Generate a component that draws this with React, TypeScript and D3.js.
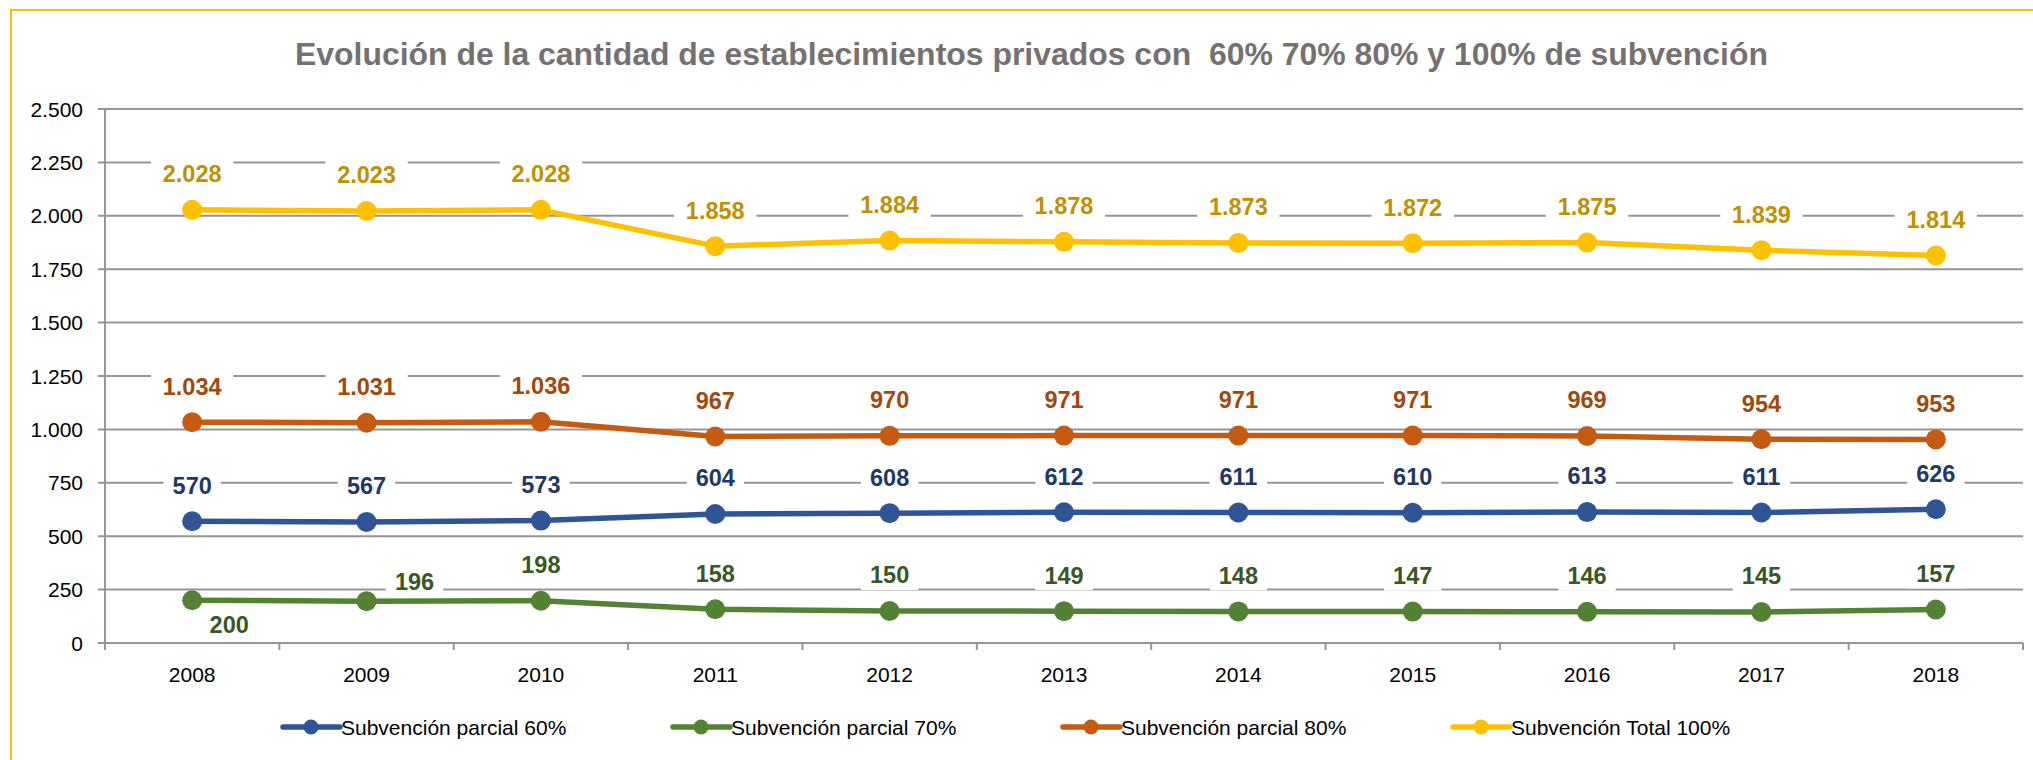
import React from "react";
import * as d3 from "d3";

const years = ["2008", "2009", "2010", "2011", "2012", "2013", "2014", "2015", "2016", "2017", "2018"];
const parcial60 = [570, 567, 573, 604, 608, 612, 611, 610, 613, 611, 626];
const parcial70 = [200, 196, 198, 158, 150, 149, 148, 147, 146, 145, 157];
const parcial80 = [1034, 1031, 1036, 967, 970, 971, 971, 971, 969, 954, 953];
const total100 = [2028, 2023, 2028, 1858, 1884, 1878, 1873, 1872, 1875, 1839, 1814];
const yTicks = [0, 250, 500, 750, 1000, 1250, 1500, 1750, 2000, 2250, 2500];

const seriesNames = [
  "Subvención parcial 60%",
  "Subvención parcial 70%",
  "Subvención parcial 80%",
  "Subvención Total 100%",
];

const W = 2033;
const H = 760;
const font = "'Liberation Sans', Arial, sans-serif";

// excel-ish palette: line colour, label colour
const series = [
  { name: seriesNames[0], values: parcial60, color: "#2F5597", label: "#1F3864" },
  { name: seriesNames[1], values: parcial70, color: "#548235", label: "#385723" },
  { name: seriesNames[2], values: parcial80, color: "#C55A11", label: "#A0480E" },
  { name: seriesNames[3], values: total100, color: "#FFC000", label: "#BF9000" },
];

// label placement that Excel moved around (series index -> point index -> [dx, dy])
const labelShift: Record<number, Record<number, [number, number]>> = {
  1: { 0: [37, 60], 1: [48, 16] },
};

const es = d3.formatLocale({ decimal: ",", thousands: ".", grouping: [3], currency: ["", ""] });
const fmt = es.format(",d");

export default function App() {
  const x = d3.scaleBand<string>().domain(years).range([105, 2023]).padding(0);
  const y = d3.scaleLinear().domain([0, 2500]).range([643, 109]);
  const cx = (yr: string) => (x(yr) as number) + x.bandwidth() / 2;

  const line = d3
    .line<number>()
    .x((_, i) => cx(years[i]))
    .y((d) => y(d));

  const gridColor = "#959595";
  const labelSize = 23.5;

  return (
    <svg
      width={W}
      height={H}
      style={{ position: "absolute", left: 0, top: 0, background: "#fff" }}
      fontFamily={font}
    >
      {/* outer frame */}
      <rect x={11} y={10} width={2100} height={900} fill="none" stroke="#FFC000" strokeWidth={2} />

      {/* title */}
      <text
        x={1031.5}
        y={65}
        textAnchor="middle"
        fontSize={31}
        fontWeight="bold"
        fill="#767171"
        textLength={1473}
        lengthAdjust="spacingAndGlyphs"
        style={{ whiteSpace: "pre" }}
      >
        {"Evolución de la cantidad de establecimientos privados con  60% 70% 80% y 100% de subvención"}
      </text>

      {/* gridlines + y axis */}
      {yTicks.map((t) => (
        <g key={t}>
          <line x1={98} x2={2023} y1={y(t)} y2={y(t)} stroke={gridColor} strokeWidth={2} />
          <text x={83} y={y(t) + 7.5} textAnchor="end" fontSize={21} fill="#000">
            {fmt(t)}
          </text>
        </g>
      ))}
      <line x1={105} x2={105} y1={y(2500)} y2={y(0)} stroke={gridColor} strokeWidth={2} />

      {/* x axis ticks */}
      {years.concat(["end"]).map((yr, i) => {
        const xx = 105 + i * x.bandwidth();
        return <line key={yr} x1={xx} x2={xx} y1={y(0)} y2={y(0) + 7} stroke={gridColor} strokeWidth={2} />;
      })}
      {years.map((yr) => (
        <text key={yr} x={cx(yr)} y={682} textAnchor="middle" fontSize={21} fill="#000">
          {yr}
        </text>
      ))}

      {/* lines + markers */}
      {series.map((s) => (
        <g key={s.name}>
          <path d={line(s.values) || ""} fill="none" stroke={s.color} strokeWidth={5.5} strokeLinejoin="round" />
          {s.values.map((v, i) => (
            <circle key={i} cx={cx(years[i])} cy={y(v)} r={10} fill={s.color} />
          ))}
        </g>
      ))}

      {/* data labels with white boxes */}
      {series.map((s, si) =>
        s.values.map((v, i) => {
          const shift = labelShift[si]?.[i] ?? [0, 0];
          const lx = cx(years[i]) + shift[0];
          const ly = y(v) - 36 + shift[1];
          const txt = fmt(v);
          const tw = txt.length * labelSize * 0.53;
          return (
            <g key={s.name + i}>
              <rect x={lx - tw / 2 - 10} y={ly - 15} width={tw + 20} height={30} fill="#fff" />
              <text
                x={lx}
                y={ly + 8.4}
                textAnchor="middle"
                fontSize={labelSize}
                fontWeight="bold"
                fill={s.label}
              >
                {txt}
              </text>
            </g>
          );
        })
      )}

      {/* legend */}
      {series.map((s, i) => {
        const lx = 283 + i * 390;
        const ly = 727;
        return (
          <g key={"lg" + s.name}>
            <line x1={lx} x2={lx + 57} y1={ly} y2={ly} stroke={s.color} strokeWidth={5.5} strokeLinecap="round" />
            <circle cx={lx + 28} cy={ly} r={7.5} fill={s.color} />
            <text x={lx + 58} y={ly + 7.5} fontSize={21} fill="#000">
              {s.name}
            </text>
          </g>
        );
      })}
    </svg>
  );
}
